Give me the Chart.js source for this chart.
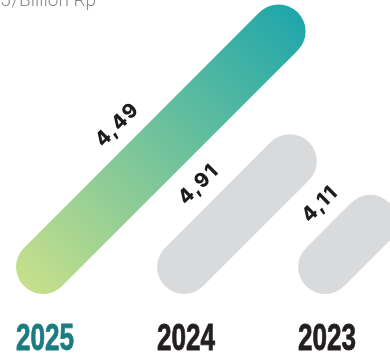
<!DOCTYPE html>
<html>
<head>
<meta charset="utf-8">
<script src="https://cdn.jsdelivr.net/npm/chart.js@4.4.1/dist/chart.umd.min.js"></script>
<style>
  html, body { margin: 0; padding: 0; background: #fff; }
  canvas { display: block; }
</style>
</head>
<body>
<canvas id="intensity" width="390" height="356"></canvas>
<script>
const years = ["2025", "2024", "2023"];
const intensity = [4.49, 4.91, 4.11];
// drawn length of each bar, in year slots (design lengths, newest year longest)
const barLength = [1.67, 0.75, 0.32];
const unitLabel = "GJ/Billion Rp";

const yearColors = ["#1a7c7e", "#231f20", "#231f20"];
const grey = "#d9dadc";

// both axes get the same px per unit so the bars run at 45 degrees
const xMin = -0.305, xMax = 2.46;
const pxPerUnit = 390 / (xMax - xMin);
const yMax = 267 / pxPerUnit;
const yMin = yMax - 356 / pxPerUnit;

const greenGradient = (context) => {
  const chart = context.chart;
  if (!chart.chartArea) return "#6cc39d";
  const sx = chart.scales.x, sy = chart.scales.y;
  const x0 = sx.getPixelForValue(0), y0 = sy.getPixelForValue(0);
  const x1 = sx.getPixelForValue(barLength[0]), y1 = sy.getPixelForValue(barLength[0]);
  const g = chart.ctx.createLinearGradient(x0 - 19, y0 + 19, x1 + 19, y1 - 19);
  g.addColorStop(0, "#c7e08b");
  g.addColorStop(1, "#1fa6ab");
  return g;
};

const datasets = years.map((y, i) => ({
  label: y,
  data: [{ x: i, y: 0 }, { x: i + barLength[i], y: barLength[i] }],
  borderColor: i === 0 ? greenGradient : grey,
  borderWidth: 54,
  borderCapStyle: "round",
  pointRadius: 0,
  pointHoverRadius: 0,
  tension: 0,
}));

// value sits just above the upper-left edge of its bar, along the bar
const valueLabels = {
  id: "valueLabels",
  afterDatasetsDraw(chart) {
    const ctx = chart.ctx;
    chart.data.datasets.forEach((ds, i) => {
      const [a, b] = chart.getDatasetMeta(i).data;
      const dx = b.x - a.x, dy = b.y - a.y;
      const len = Math.hypot(dx, dy);
      const ux = dx / len, uy = dy / len;
      const along = Math.max(len * 0.46, 41);
      const cx = a.x + ux * along + uy * 48;
      const cy = a.y + uy * along - ux * 48;
      ctx.save();
      ctx.translate(cx, cy);
      ctx.rotate(Math.atan2(dy, dx));
      ctx.font = "800 20px Inter, Lato, sans-serif";
      ctx.letterSpacing = "1.5px";
      ctx.fillStyle = "#1c1c1c";
      ctx.textAlign = "center";
      ctx.textBaseline = "middle";
      ctx.fillText(intensity[i].toFixed(2).replace(".", ","), 0, 0);
      ctx.restore();
    });
  },
};

const yearLabels = {
  id: "yearLabels",
  afterDraw(chart) {
    const ctx = chart.ctx;
    const sx = chart.scales.x;
    ctx.save();
    ctx.font = "bold 37px 'Liberation Sans Narrow', 'Liberation Sans', sans-serif";
    ctx.textAlign = "center";
    ctx.textBaseline = "alphabetic";
    ctx.lineWidth = 0.8;
    years.forEach((y, i) => {
      const squeeze = 58 / ctx.measureText(y).width;
      ctx.save();
      ctx.translate(sx.getPixelForValue(i) + 2, 350);
      ctx.scale(squeeze, 1);
      ctx.fillStyle = yearColors[i];
      ctx.strokeStyle = yearColors[i];
      ctx.fillText(y, 0, 0);
      ctx.strokeText(y, 0, 0);
      ctx.restore();
    });
    // unit caption, running off the top-left edge
    ctx.font = "300 19px Roboto, sans-serif";
    ctx.fillStyle = "#8a8a8a";
    ctx.textAlign = "left";
    ctx.fillText(unitLabel, -12, 6);
    ctx.restore();
  },
};

new Chart(document.getElementById("intensity"), {
  type: "line",
  data: { datasets },
  options: {
    responsive: false,
    animation: false,
    devicePixelRatio: 1,
    events: [],
    layout: { padding: 0 },
    plugins: { legend: { display: false }, tooltip: { enabled: false } },
    scales: {
      x: { type: "linear", min: xMin, max: xMax, display: false },
      y: { type: "linear", min: yMin, max: yMax, display: false },
    },
  },
  plugins: [valueLabels, yearLabels],
});
</script>
</body>
</html>
